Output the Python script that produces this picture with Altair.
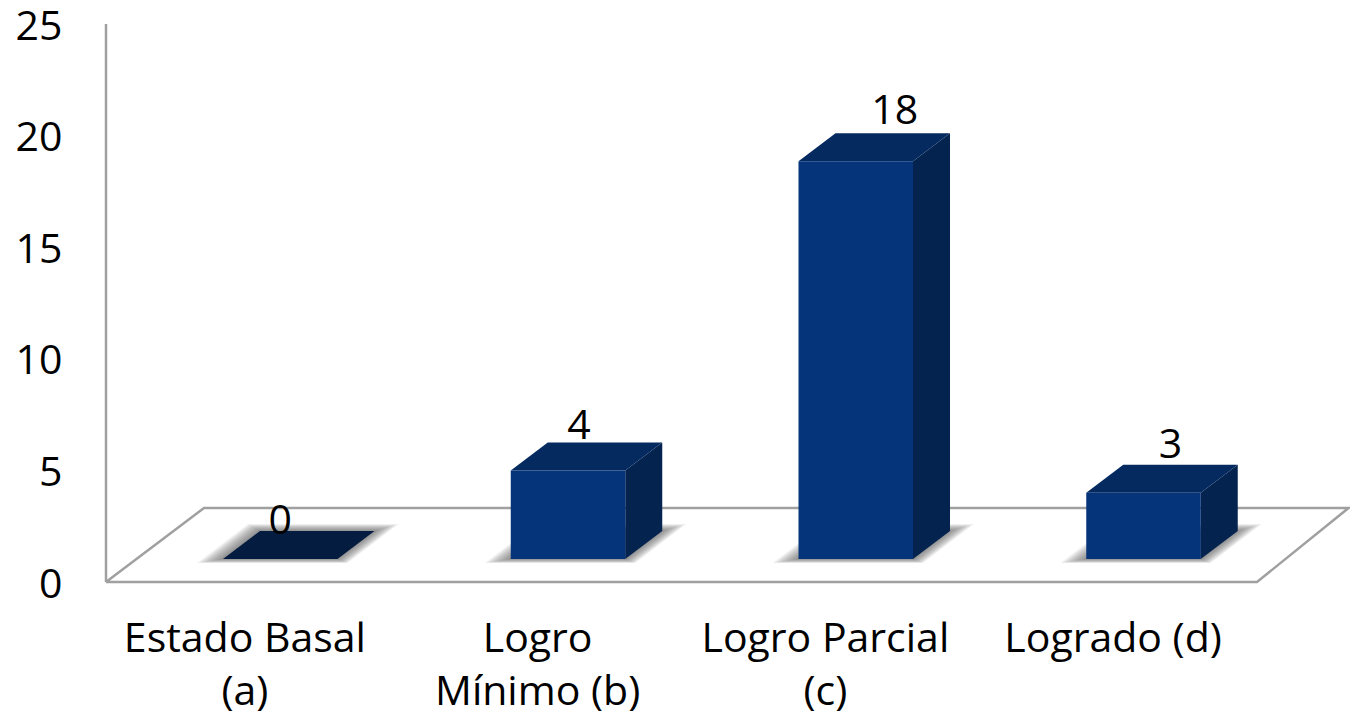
import altair as alt
import pandas as pd

categories = ["Estado Basal\n(a)", "Logro\nMínimo (b)", "Logro Parcial\n(c)", "Logrado (d)"]
values = [0, 4, 18, 3]
y_ticks = [0, 5, 10, 15, 20, 25]

# plot geometry
W, H = 1151, 558
X_MAX, Y_MAX = 4, 25
PX = X_MAX / W            # data units in x per pixel
PY = Y_MAX / H            # data units in y per pixel
FONT = "Open Sans"
FS = 41

BAR_L0 = 117 * PX         # gap from band start to bar front
BAR_W = 114.5 * PX
DEPTH_X = 37 * PX
DEPTH_Y = 28 * PY
BASE_Y = 23 * PY          # bar base above the front floor edge
BAR_SCALE = 0.99          # the perspective foreshortens bar heights a little
FLOOR_DX = 98 * PX
FLOOR_DX_RIGHT = 91.5 * PX
FLOOR_DY = 74 * PY

label_nudge_x = [0, 11, 39, 27]
label_nudge_y = [9, 16, 21, 19]
category_nudge_x = [-5, 0, 0, 0]


def para(group, xl, xr, dx, yb, dy):
    return [
        dict(g=group, x=xl, y=yb, y2=yb),
        dict(g=group, x=xl + dx, y=yb + dy, y2=yb),
        dict(g=group, x=xr, y=yb + dy, y2=yb),
        dict(g=group, x=xr + dx, y=yb + dy, y2=yb + dy),
    ]


front, tops, sides, shadows, labels, cats = [], [], [], [], [], []
LEVELS = 12
for i, (c, v) in enumerate(zip(categories, values)):
    xl = i + BAR_L0
    xr = xl + BAR_W
    h = v * BAR_SCALE
    front.append(dict(xl=xl, xr=xr, y0=BASE_Y, y1=BASE_Y + h))
    tops.extend(dict(r, zero=v == 0) for r in para(i, xl, xr, DEPTH_X, BASE_Y + h, DEPTH_Y))
    sides.append(dict(g=i, x=xr, y=BASE_Y + h, y2=BASE_Y))
    sides.append(dict(g=i, x=xr + DEPTH_X, y=BASE_Y + h + DEPTH_Y, y2=BASE_Y + DEPTH_Y))
    for k in range(LEVELS):
        t = k / (LEVELS - 1)
        sx = xl - (26 - 26 * t) * PX
        ex = xr + (10 - 10 * t) * PX
        ddx = (51 - 14 * t) * PX
        yb = BASE_Y - (4 - 4 * t) * PY
        ddy = (39 - 11 * t) * PY
        shadows.extend(para(f"{i}-{k}", sx, ex, ddx, yb, ddy))
    labels.append(dict(x=(xl + xr) / 2 + label_nudge_x[i] * PX,
                       y=BASE_Y + h + DEPTH_Y + label_nudge_y[i] * PY, t=str(v)))
    cats.append(dict(x=i + 0.5 + category_nudge_x[i] * PX, y=0, t=c))

floor_outline = pd.DataFrame([
    dict(o=0, x=0, y=0), dict(o=1, x=X_MAX, y=0),
    dict(o=2, x=X_MAX + FLOOR_DX_RIGHT, y=FLOOR_DY),
    dict(o=3, x=FLOOR_DX, y=FLOOR_DY), dict(o=4, x=0, y=0),
])

xs = alt.Scale(domain=[0, X_MAX], nice=False, zero=False)
ys = alt.Scale(domain=[0, Y_MAX], nice=False, zero=False)
y_axis = alt.Axis(
    values=y_ticks, title=None, grid=False, ticks=False, domain=False,
    labelFont=FONT, labelFontSize=FS, labelColor="#000000",
    labelPadding=44, labelOffset=3, labelFlush=False, labelOverlap=False,
)
X = alt.X("x:Q", scale=xs, axis=None)
Y = alt.Y("y:Q", scale=ys, axis=y_axis)
Y2 = alt.Y2("y2:Q")
LINE = "#a0a0a0"

axis_layer = alt.Chart(pd.DataFrame({"x": [0, 0], "y": [0, Y_MAX]})).mark_line(
    color=LINE, strokeWidth=2.5
).encode(x=X, y=Y)

floor_layer = alt.Chart(floor_outline).mark_line(color=LINE, strokeWidth=2.5).encode(
    x=X, y=Y, order="o:O"
)

shadow_layer = alt.Chart(pd.DataFrame(shadows)).mark_area(color="#444444", opacity=0.07).encode(
    x=X, y=Y, y2=Y2, detail="g:N"
)

side_layer = alt.Chart(pd.DataFrame(sides)).mark_area(color="#04244f").encode(
    x=X, y=Y, y2=Y2, detail="g:N"
)

top_layer = alt.Chart(pd.DataFrame(tops)).mark_area().encode(
    x=X, y=Y, y2=Y2, detail="g:N",
    color=alt.condition("datum.zero", alt.value("#031c40"), alt.value("#052a60")),
)

front_layer = alt.Chart(pd.DataFrame(front)).mark_rect(color="#05347a").encode(
    x=alt.X("xl:Q", scale=xs, axis=None),
    x2="xr:Q",
    y=alt.Y("y0:Q", scale=ys, axis=y_axis),
    y2="y1:Q",
)

value_labels = alt.Chart(pd.DataFrame(labels)).mark_text(
    font=FONT, fontSize=FS, color="#000000", baseline="middle", align="center"
).encode(x=X, y=Y, text="t:N")

cat_labels = alt.Chart(pd.DataFrame(cats)).mark_text(
    font=FONT, fontSize=FS, color="#000000", baseline="top", align="center",
    lineBreak="\n", lineHeight=53, dy=38,
).encode(x=X, y=Y, text="t:N")

chart = alt.layer(
    axis_layer, floor_layer, shadow_layer, side_layer, top_layer, front_layer,
    value_labels, cat_labels,
).properties(
    width=W, height=H,
    padding={"left": 98, "top": 16, "right": 93, "bottom": 135},
    autosize=alt.AutoSizeParams(type="none"),
    background="#ffffff",
).configure_view(stroke=None)

chart.save("out.html", embed_options={"renderer": "svg", "actions": False})
